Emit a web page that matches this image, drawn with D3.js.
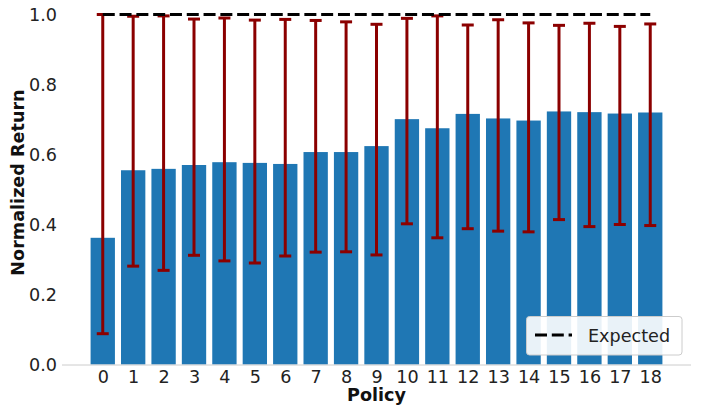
<!DOCTYPE html>
<html>
<head>
<meta charset="utf-8">
<script src="https://cdn.jsdelivr.net/npm/d3@7"></script>
<style>
  html, body { margin: 0; padding: 0; background: #fff; }
  svg { display: block; font-family: "DejaVu Sans", sans-serif; }
</style>
</head>
<body>
<svg id="chart" width="705" height="406"></svg>
<script>
const policies = [0,1,2,3,4,5,6,7,8,9,10,11,12,13,14,15,16,17,18];
const meanReturn = [0.362,0.555,0.559,0.570,0.578,0.576,0.573,0.607,0.607,0.624,0.701,0.675,0.716,0.703,0.697,0.723,0.721,0.717,0.720];
const lowerBound = [0.088,0.281,0.269,0.312,0.296,0.290,0.310,0.321,0.322,0.313,0.402,0.362,0.388,0.381,0.379,0.414,0.394,0.400,0.397];
const upperBound = [1.000,0.995,0.996,0.987,0.990,0.984,0.986,0.983,0.979,0.972,0.989,0.996,0.970,0.985,0.976,0.969,0.975,0.966,0.973];
const expectedValue = 1.0;
const yTicks = [0.0,0.2,0.4,0.6,0.8,1.0];

const FS = 17.6;
const svg = d3.select("#chart");
const mLeft = 62, mRight = 691, mTop = 14.5, mBottom = 364.5;

const x = d3.scaleLinear().domain([-1.34, 19.34]).range([mLeft, mRight]);
const y = d3.scaleLinear().domain([0, 1]).range([mBottom, mTop]);
const barW = x(0.8) - x(0);

// bars
svg.append("g").selectAll("rect").data(policies).join("rect")
  .attr("x", d => x(d - 0.4))
  .attr("y", (d, i) => y(meanReturn[i]))
  .attr("width", barW)
  .attr("height", (d, i) => y(0) - y(meanReturn[i]))
  .attr("fill", "#1f77b4");

// bottom spine
svg.append("line")
  .attr("x1", mLeft).attr("x2", mRight)
  .attr("y1", mBottom + 0.5).attr("y2", mBottom + 0.5)
  .attr("stroke", "#cccccc").attr("stroke-width", 1);

// error bars
const eg = svg.append("g").attr("stroke", "#8b0000").attr("stroke-width", 3);
policies.forEach((p, i) => {
  const cx = x(p);
  eg.append("line").attr("x1", cx).attr("x2", cx)
    .attr("y1", y(lowerBound[i])).attr("y2", y(upperBound[i]));
  [lowerBound[i], upperBound[i]].forEach(v => {
    eg.append("line").attr("x1", cx - 6).attr("x2", cx + 6)
      .attr("y1", y(v)).attr("y2", y(v));
  });
});

// expected dashed line
svg.append("line")
  .attr("x1", x(0)).attr("x2", x(18))
  .attr("y1", y(expectedValue)).attr("y2", y(expectedValue))
  .attr("stroke", "#000").attr("stroke-width", 3.2)
  .attr("stroke-dasharray", "12,4.8");

// y axis (no line, no ticks)
const yAxis = d3.axisLeft(y).tickValues(yTicks).tickFormat(d3.format(".1f")).tickSize(0).tickPadding(0);
const ya = svg.append("g").attr("transform", `translate(57,0)`).call(yAxis);
ya.select(".domain").remove();
ya.selectAll("text").attr("font-size", FS).attr("fill", "#222").attr("font-family", "DejaVu Sans");

// x axis
const xAxis = d3.axisBottom(x).tickValues(policies).tickFormat(d3.format("d")).tickSize(0).tickPadding(0);
const xa = svg.append("g").attr("transform", `translate(0,${mBottom + 5.5})`).call(xAxis);
xa.select(".domain").remove();
xa.selectAll("text").attr("font-size", FS).attr("fill", "#222").attr("font-family", "DejaVu Sans").attr("dy", "0.71em");

// axis labels
svg.append("text").attr("x", (mLeft + mRight) / 2).attr("y", 401)
  .attr("text-anchor", "middle").attr("font-size", FS).attr("font-weight", "bold")
  .attr("fill", "#111").text("Policy");
svg.append("text").attr("transform", `translate(23.5,${(mTop + mBottom) / 2 - 7}) rotate(-90)`)
  .attr("text-anchor", "middle").attr("font-size", FS).attr("font-weight", "bold")
  .attr("fill", "#111").text("Normalized Return");

// legend
const lg = svg.append("g");
lg.append("rect").attr("x", 526.5).attr("y", 316.5).attr("width", 155.5).attr("height", 38.5)
  .attr("rx", 3).attr("fill", "#fff").attr("fill-opacity", 0.9).attr("stroke", "#cccccc");
lg.append("line").attr("x1", 535).attr("x2", 572).attr("y1", 335).attr("y2", 335)
  .attr("stroke", "#000").attr("stroke-width", 3.2).attr("stroke-dasharray", "12,4.8");
lg.append("text").attr("x", 588).attr("y", 342).attr("font-size", FS).attr("fill", "#222").text("Expected");
</script>
</body>
</html>
